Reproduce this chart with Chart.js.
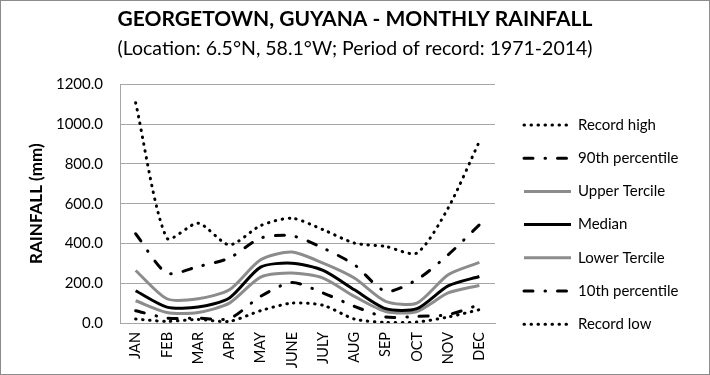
<!DOCTYPE html>
<html>
<head>
<meta charset="utf-8">
<script src="https://cdn.jsdelivr.net/npm/chart.js@4.4.0/dist/chart.umd.min.js"></script>
<style>
    body { margin: 0; background: #fff; }
    #wrap { position: relative; width: 710px; height: 375px; }
    #frame { position: absolute; left: 0; top: 0; width: 708px; height: 373px; border: 1px solid #8c8c8c; pointer-events: none; }
</style>
</head>
<body>
<div id="wrap">
    <canvas id="rainChart" width="710" height="375"></canvas>
    <div id="frame"></div>
</div>
<script>
const months = ['JAN', 'FEB', 'MAR', 'APR', 'MAY', 'JUNE', 'JULY', 'AUG', 'SEP', 'OCT', 'NOV', 'DEC'];

const recordHigh   = [1108, 427, 502, 393, 490, 527, 469, 402, 385, 352, 578, 913];
const pct90        = [449, 251, 284, 327, 427, 439, 377, 293, 159, 218, 343, 494];
const upperTercile = [264, 122, 122, 167, 318, 357, 301, 226, 109, 100, 243, 305];
const median       = [162, 80, 80, 126, 281, 301, 265, 167, 72, 72, 187, 234];
const lowerTercile = [112, 53, 53, 100, 231, 251, 226, 134, 58, 58, 151, 189];
const pct10        = [62, 25, 25, 22, 134, 204, 151, 84, 30, 33, 42, 92];
const recordLow    = [20, 8, 18, 8, 62, 100, 89, 20, 3, 5, 30, 67];

const yTickLabels = ['0.0', '200.0', '400.0', '600.0', '800.0', '1000.0', '1200.0'];

const FONT = 'Lato, "Open Sans", sans-serif';
const GRID = '#a6a6a6';
const GREY = '#8c8c8c';

const dotted = [0.5, 6.5];
const dashDot = [9, 12, 0.5, 12];

function series(label, data, color, dash) {
    return {
        label: label,
        data: data,
        borderColor: color,
        backgroundColor: color,
        borderWidth: 3,
        borderDash: dash,
        borderCapStyle: dash.length ? 'round' : 'butt',
        pointRadius: 0,
        pointHoverRadius: 0,
        tension: 0.25,
        fill: false
    };
}

// legend drawn by hand on the right, so the line styles show properly
const sideLegend = {
    id: 'sideLegend',
    afterDraw(chart) {
        const c = chart.ctx;
        chart.data.datasets.forEach((ds, i) => {
            const y = 125 + i * 33.2;
            c.save();
            c.strokeStyle = ds.borderColor;
            c.lineWidth = ds.borderWidth;
            c.lineCap = ds.borderCapStyle;
            c.setLineDash(ds.borderDash);
            c.beginPath();
            c.moveTo(524, y);
            c.lineTo(571, y);
            c.stroke();
            c.setLineDash([]);
            c.fillStyle = '#000';
            c.font = '15px ' + FONT;
            c.textBaseline = 'middle';
            c.fillText(ds.label, 578, y);
            c.restore();
        });
    }
};

const ctx = document.getElementById('rainChart').getContext('2d');
const chart = new Chart(ctx, {
    type: 'line',
    data: {
        labels: months,
        datasets: [
            series('Record high', recordHigh, '#000', dotted),
            series('90th percentile', pct90, '#000', dashDot),
            series('Upper Tercile', upperTercile, GREY, []),
            series('Median', median, '#000', []),
            series('Lower Tercile', lowerTercile, GREY, []),
            series('10th percentile', pct10, '#000', dashDot),
            series('Record low', recordLow, '#000', dotted)
        ]
    },
    plugins: [sideLegend],
    options: {
        responsive: false,
        animation: false,
        layout: { padding: { left: 0, right: 0, top: 3, bottom: 0 } },
        plugins: {
            title: {
                display: true,
                text: 'GEORGETOWN, GUYANA - MONTHLY RAINFALL',
                color: '#000',
                font: { family: FONT, size: 21, weight: 'bold' },
                padding: { top: 4, bottom: 5 }
            },
            subtitle: {
                display: true,
                text: '(Location: 6.5°N, 58.1°W; Period of record: 1971-2014)',
                color: '#000',
                font: { family: FONT, size: 19.5 },
                padding: { top: 0, bottom: 23.8 }
            },
            legend: { display: false },
            tooltip: { enabled: false }
        },
        scales: {
            x: {
                offset: true,
                grid: { display: false },
                border: { display: true, color: GRID, width: 1 },
                ticks: {
                    color: '#000',
                    font: { family: FONT, size: 14.5 },
                    minRotation: 90,
                    maxRotation: 90,
                    padding: 1
                },
                afterFit: s => { s.height = 52; }
            },
            y: {
                min: 0,
                max: 1200,
                grid: { color: GRID, lineWidth: 1, drawTicks: false },
                border: { display: true, color: GRID, width: 1 },
                ticks: {
                    stepSize: 200,
                    color: '#000',
                    font: { family: FONT, size: 15 },
                    padding: 17,
                    callback: (v, i) => yTickLabels[i]
                },
                title: {
                    display: true,
                    text: 'RAINFALL (mm)',
                    color: '#000',
                    font: { family: FONT, size: 17, weight: 'bold' },
                    padding: { top: 26, bottom: 0 }
                },
                afterFit: s => { s.width = 120; }
            },
            // empty right-hand axis that only reserves room for the legend
            legendSpace: {
                position: 'right',
                min: 0,
                max: 1200,
                grid: { display: false, drawOnChartArea: false },
                border: { display: false },
                ticks: { display: false },
                afterFit: s => { s.width = 215; }
            }
        }
    }
});
</script>
</body>
</html>
